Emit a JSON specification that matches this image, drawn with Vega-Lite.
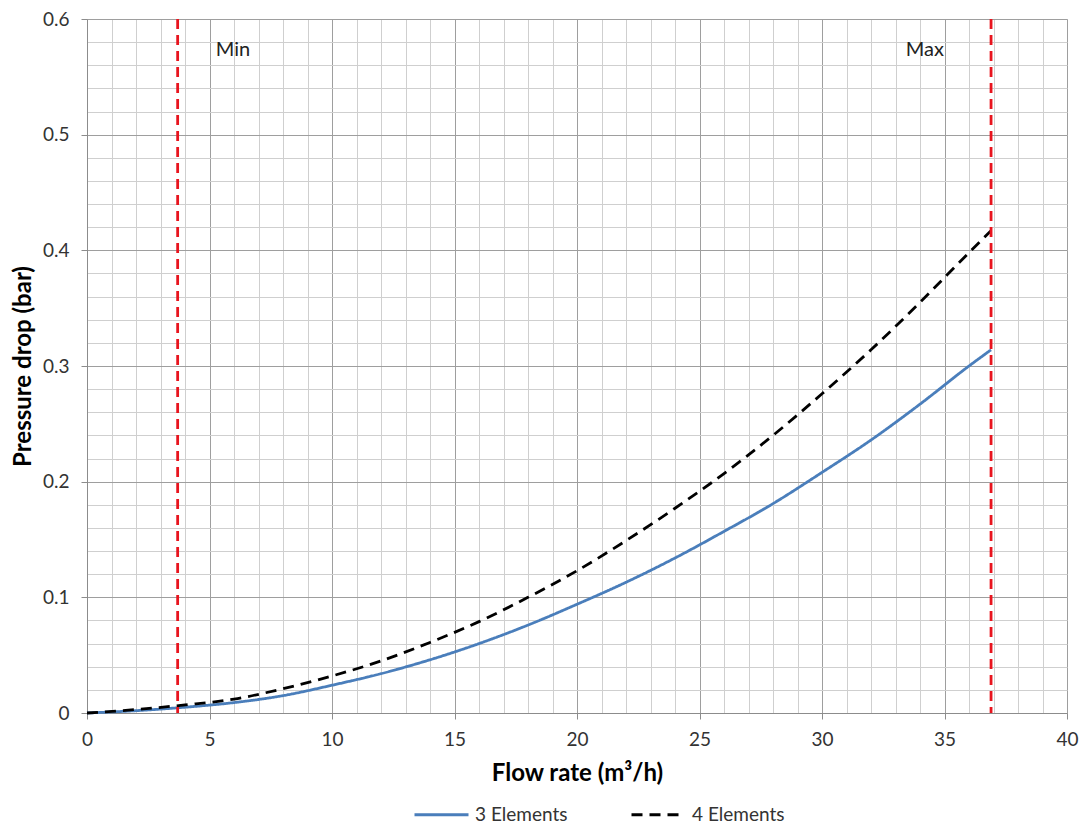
{
  "$schema": "https://vega.github.io/schema/vega-lite/v6.json",
  "width": 980,
  "height": 694,
  "autosize": "none",
  "padding": {"left": 87, "top": 19, "right": 17, "bottom": 112},
  "background": "white",
  "config": {
    "font": "Lato",
    "view": {"stroke": "#a6a6a6", "strokeWidth": 1},
    "axis": {"labelFont": "Lato", "titleFont": "Lato", "labelColor": "#333333", "titleColor": "#000000"}
  },
  "datasets": {
    "curves": [
      {"flow": 0, "dp": 0, "series": "3 Elements"},
      {"flow": 2, "dp": 0.002, "series": "3 Elements"},
      {"flow": 4, "dp": 0.005, "series": "3 Elements"},
      {"flow": 6, "dp": 0.009, "series": "3 Elements"},
      {"flow": 8, "dp": 0.015, "series": "3 Elements"},
      {"flow": 10, "dp": 0.024, "series": "3 Elements"},
      {"flow": 12, "dp": 0.034, "series": "3 Elements"},
      {"flow": 14, "dp": 0.046, "series": "3 Elements"},
      {"flow": 16, "dp": 0.060, "series": "3 Elements"},
      {"flow": 18, "dp": 0.076, "series": "3 Elements"},
      {"flow": 20, "dp": 0.094, "series": "3 Elements"},
      {"flow": 22, "dp": 0.113, "series": "3 Elements"},
      {"flow": 24, "dp": 0.134, "series": "3 Elements"},
      {"flow": 26, "dp": 0.157, "series": "3 Elements"},
      {"flow": 28, "dp": 0.181, "series": "3 Elements"},
      {"flow": 30, "dp": 0.208, "series": "3 Elements"},
      {"flow": 32, "dp": 0.236, "series": "3 Elements"},
      {"flow": 34, "dp": 0.267, "series": "3 Elements"},
      {"flow": 36, "dp": 0.300, "series": "3 Elements"},
      {"flow": 36.9, "dp": 0.314, "series": "3 Elements"},
      {"flow": 0, "dp": 0, "series": "4 Elements"},
      {"flow": 2, "dp": 0.003, "series": "4 Elements"},
      {"flow": 4, "dp": 0.007, "series": "4 Elements"},
      {"flow": 6, "dp": 0.012, "series": "4 Elements"},
      {"flow": 8, "dp": 0.021, "series": "4 Elements"},
      {"flow": 10, "dp": 0.032, "series": "4 Elements"},
      {"flow": 12, "dp": 0.045, "series": "4 Elements"},
      {"flow": 14, "dp": 0.061, "series": "4 Elements"},
      {"flow": 16, "dp": 0.079, "series": "4 Elements"},
      {"flow": 18, "dp": 0.100, "series": "4 Elements"},
      {"flow": 20, "dp": 0.123, "series": "4 Elements"},
      {"flow": 22, "dp": 0.149, "series": "4 Elements"},
      {"flow": 24, "dp": 0.177, "series": "4 Elements"},
      {"flow": 26, "dp": 0.207, "series": "4 Elements"},
      {"flow": 28, "dp": 0.240, "series": "4 Elements"},
      {"flow": 30, "dp": 0.276, "series": "4 Elements"},
      {"flow": 32, "dp": 0.314, "series": "4 Elements"},
      {"flow": 34, "dp": 0.355, "series": "4 Elements"},
      {"flow": 36, "dp": 0.398, "series": "4 Elements"},
      {"flow": 36.9, "dp": 0.417, "series": "4 Elements"}
    ],
    "limits": [
      {"flow": 3.7, "label": "Min"},
      {"flow": 36.9, "label": "Max"}
    ],
    "labels": [
      {"flow": 5.96, "dp": 0.573, "label": "Min"},
      {"flow": 34.2, "dp": 0.573, "label": "Max"}
    ]
  },
  "resolve": {"axis": {"x": "independent", "y": "independent"}},
  "layer": [
    {
      "data": {"name": "labels"},
      "mark": {"type": "text", "fontSize": 20, "font": "Lato", "color": "#222222"},
      "encoding": {
        "x": {
          "field": "flow", "type": "quantitative",
          "scale": {"domain": [0, 40], "nice": false, "zero": false},
          "axis": {
            "orient": "bottom",
            "values": [0,1,2,3,4,5,6,7,8,9,10,11,12,13,14,15,16,17,18,19,20,21,22,23,24,25,26,27,28,29,30,31,32,33,34,35,36,37,38,39,40],
            "grid": true, "gridColor": "#cfcfcf", "gridWidth": 1,
            "labels": false, "ticks": false, "domain": false, "title": null
          }
        },
        "y": {
          "field": "dp", "type": "quantitative",
          "scale": {"domain": [0, 0.6], "nice": false},
          "axis": {
            "orient": "left",
            "values": [0,0.02,0.04,0.06,0.08,0.1,0.12,0.14,0.16,0.18,0.2,0.22,0.24,0.26,0.28,0.3,0.32,0.34,0.36,0.38,0.4,0.42,0.44,0.46,0.48,0.5,0.52,0.54,0.56,0.58,0.6],
            "grid": true, "gridColor": "#cfcfcf", "gridWidth": 1,
            "labels": false, "ticks": false, "domain": false, "title": null
          }
        },
        "text": {"field": "label", "type": "nominal"}
      }
    },
    {
      "data": {"name": "curves"},
      "mark": {"type": "line", "interpolate": "monotone", "strokeWidth": 2.8},
      "encoding": {
        "x": {
          "field": "flow", "type": "quantitative",
          "axis": {
            "orient": "bottom",
            "values": [0,5,10,15,20,25,30,35,40],
            "labelFlush": false,
            "grid": true, "gridColor": "#9e9e9e", "gridWidth": 1,
            "ticks": true, "tickSize": 6, "tickColor": "#8c8c8c",
            "domain": true, "domainColor": "#8c8c8c",
            "labelFontSize": 19, "labelPadding": 11,
            "title": "Flow rate (m³/h)", "titleFontSize": 24, "titleFontWeight": "bold", "titlePadding": 12
          }
        },
        "y": {
          "field": "dp", "type": "quantitative",
          "axis": {
            "orient": "left",
            "values": [0,0.1,0.2,0.3,0.4,0.5,0.6],
            "labelFlush": false,
            "format": ".1~f",
            "grid": true, "gridColor": "#9e9e9e", "gridWidth": 1,
            "ticks": true, "tickSize": 6, "tickColor": "#8c8c8c",
            "domain": true, "domainColor": "#8c8c8c",
            "labelFontSize": 19, "labelPadding": 12,
            "title": "Pressure drop (bar)", "titleFontSize": 24, "titleFontWeight": "bold", "titlePadding": 7
          }
        },
        "color": {
          "field": "series", "type": "nominal",
          "scale": {"domain": ["3 Elements", "4 Elements"], "range": ["#4a7ebb", "#000000"]},
          "legend": {
            "title": null, "orient": "none", "direction": "horizontal",
            "legendX": 326, "legendY": 767,
            "symbolType": "stroke", "symbolSize": 2916, "symbolStrokeWidth": 2.8,
            "labelFontSize": 19, "labelFont": "Lato", "labelColor": "#333333",
            "labelOffset": 5, "columnPadding": 57, "padding": 0
          }
        },
        "strokeDash": {
          "field": "series", "type": "nominal",
          "scale": {"domain": ["3 Elements", "4 Elements"], "range": [[1, 0], [11, 7]]},
          "legend": {
            "title": null, "orient": "none", "direction": "horizontal",
            "legendX": 326, "legendY": 767,
            "symbolType": "stroke", "symbolSize": 2916, "symbolStrokeWidth": 2.8,
            "labelFontSize": 19, "labelFont": "Lato", "labelColor": "#333333",
            "labelOffset": 5, "columnPadding": 57, "padding": 0
          }
        }
      }
    },
    {
      "data": {"name": "limits"},
      "mark": {"type": "rule", "color": "#e8141e", "strokeWidth": 2.8, "strokeDash": [10, 6]},
      "encoding": {
        "x": {"field": "flow", "type": "quantitative", "axis": null}
      }
    }
  ]
}
